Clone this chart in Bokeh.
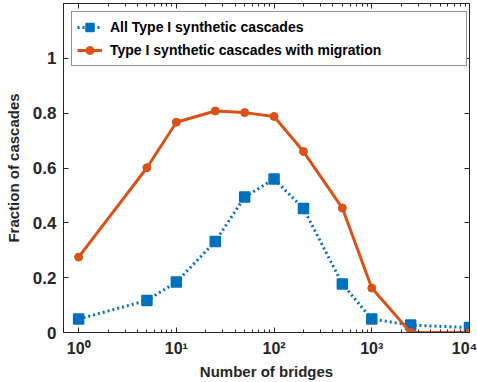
from bokeh.plotting import figure
from bokeh.models import FixedTicker, LogAxis, LinearAxis, Legend, LegendItem, Range1d
from bokeh.embed import file_html
from bokeh.resources import INLINE

bridges = [1, 5, 10, 25, 50, 100, 200, 500, 1000, 2500, 10000]
all_type1 = [0.049, 0.117, 0.184, 0.332, 0.494, 0.560, 0.452, 0.177, 0.049, 0.027, 0.018]
with_migration = [0.275, 0.601, 0.767, 0.808, 0.802, 0.788, 0.660, 0.454, 0.162, 0.0, 0.0]
x_major = [1, 10, 100, 1000, 10000]
x_labels = ["10\u2070", "10\u00b9", "10\u00b2", "10\u00b3", "10\u2074"]
y_major = [0, 0.2, 0.4, 0.6, 0.8, 1.0]
y_labels = ["0", "0.2", "0.4", "0.6", "0.8", "1"]

BLUE = "#0072BD"
RED = "#D95319"
FONT = "Liberation Sans"

minor = [m * d for d in [1, 10, 100, 1000] for m in range(2, 10)]

p = figure(width=477, height=382, x_axis_type="log", output_backend="svg",
           toolbar_location=None, x_range=Range1d(0.7, 10000), y_range=Range1d(0, 1.2),
           min_border_left=63, min_border_right=8, min_border_top=3, min_border_bottom=0)
p.grid.visible = False
p.outline_line_color = "#262626"
p.outline_line_width = 1

xt = FixedTicker(ticks=x_major, minor_ticks=minor)
yt = FixedTicker(ticks=y_major, minor_ticks=[])

def style_axis(ax, labels=True):
    ax.major_tick_in = 5
    ax.major_tick_out = 0
    ax.minor_tick_in = 3
    ax.minor_tick_out = 0
    ax.axis_line_color = "#262626"
    ax.major_tick_line_color = "#262626"
    ax.minor_tick_line_color = "#262626"
    ax.major_label_text_font = FONT
    ax.major_label_text_font_style = "bold"
    ax.major_label_text_font_size = "16px"
    ax.major_label_text_color = "#262626"
    if not labels:
        ax.major_label_text_font_size = "1px"
        ax.major_label_text_alpha = 0
        ax.major_label_standoff = 0

xa = p.xaxis[0]
xa.ticker = xt
xa.major_label_overrides = {t: l for t, l in zip(x_major, x_labels)}
style_axis(xa)
xa.axis_label = "Number of bridges"
xa.major_label_standoff = 7
xa.axis_label_standoff = 3

ya = p.yaxis[0]
ya.ticker = yt
ya.major_label_overrides = {t: l for t, l in zip(y_major, y_labels)}
style_axis(ya)
ya.major_label_text_font_size = "17px"
ya.axis_label = "Fraction of cascades"
ya.major_label_standoff = 7
ya.axis_label_standoff = 8

for ax in (xa, ya):
    ax.axis_label_text_font = FONT
    ax.axis_label_text_font_style = "bold"
    ax.axis_label_text_font_size = "15px"
    ax.axis_label_text_color = "#262626"

top = LogAxis(ticker=xt)
style_axis(top, labels=False)
p.add_layout(top, "above")
right = LinearAxis(ticker=yt)
style_axis(right, labels=False)
p.add_layout(right, "right")

bl = p.line(bridges, all_type1, line_color=BLUE, line_width=3, line_dash="2 3")
bm = p.scatter(bridges, all_type1, marker="square", size=10, fill_color=BLUE,
               line_color=BLUE, line_width=1.5)
rl = p.line(bridges, with_migration, line_color=RED, line_width=3)
rm = p.scatter(bridges, with_migration, marker="circle", size=8, fill_color=RED,
               line_color=RED)

legend = Legend(items=[
    LegendItem(label="All Type I synthetic cascades", renderers=[bl, bm]),
    LegendItem(label="Type I synthetic cascades with migration", renderers=[rl, rm]),
], location="top_left")
legend.margin = 8
legend.padding = 5
legend.spacing = 3
legend.glyph_width = 25
legend.glyph_height = 20
legend.label_height = 20
legend.label_standoff = 8
legend.label_width = 351
legend.label_text_font = FONT
legend.label_text_font_style = "bold"
legend.label_text_font_size = "14px"
legend.label_text_color = "black"
legend.border_line_color = "#262626"
legend.border_line_width = 1
legend.background_fill_alpha = 1
p.add_layout(legend, "center")

open("out.html", "w").write(file_html(p, INLINE))
